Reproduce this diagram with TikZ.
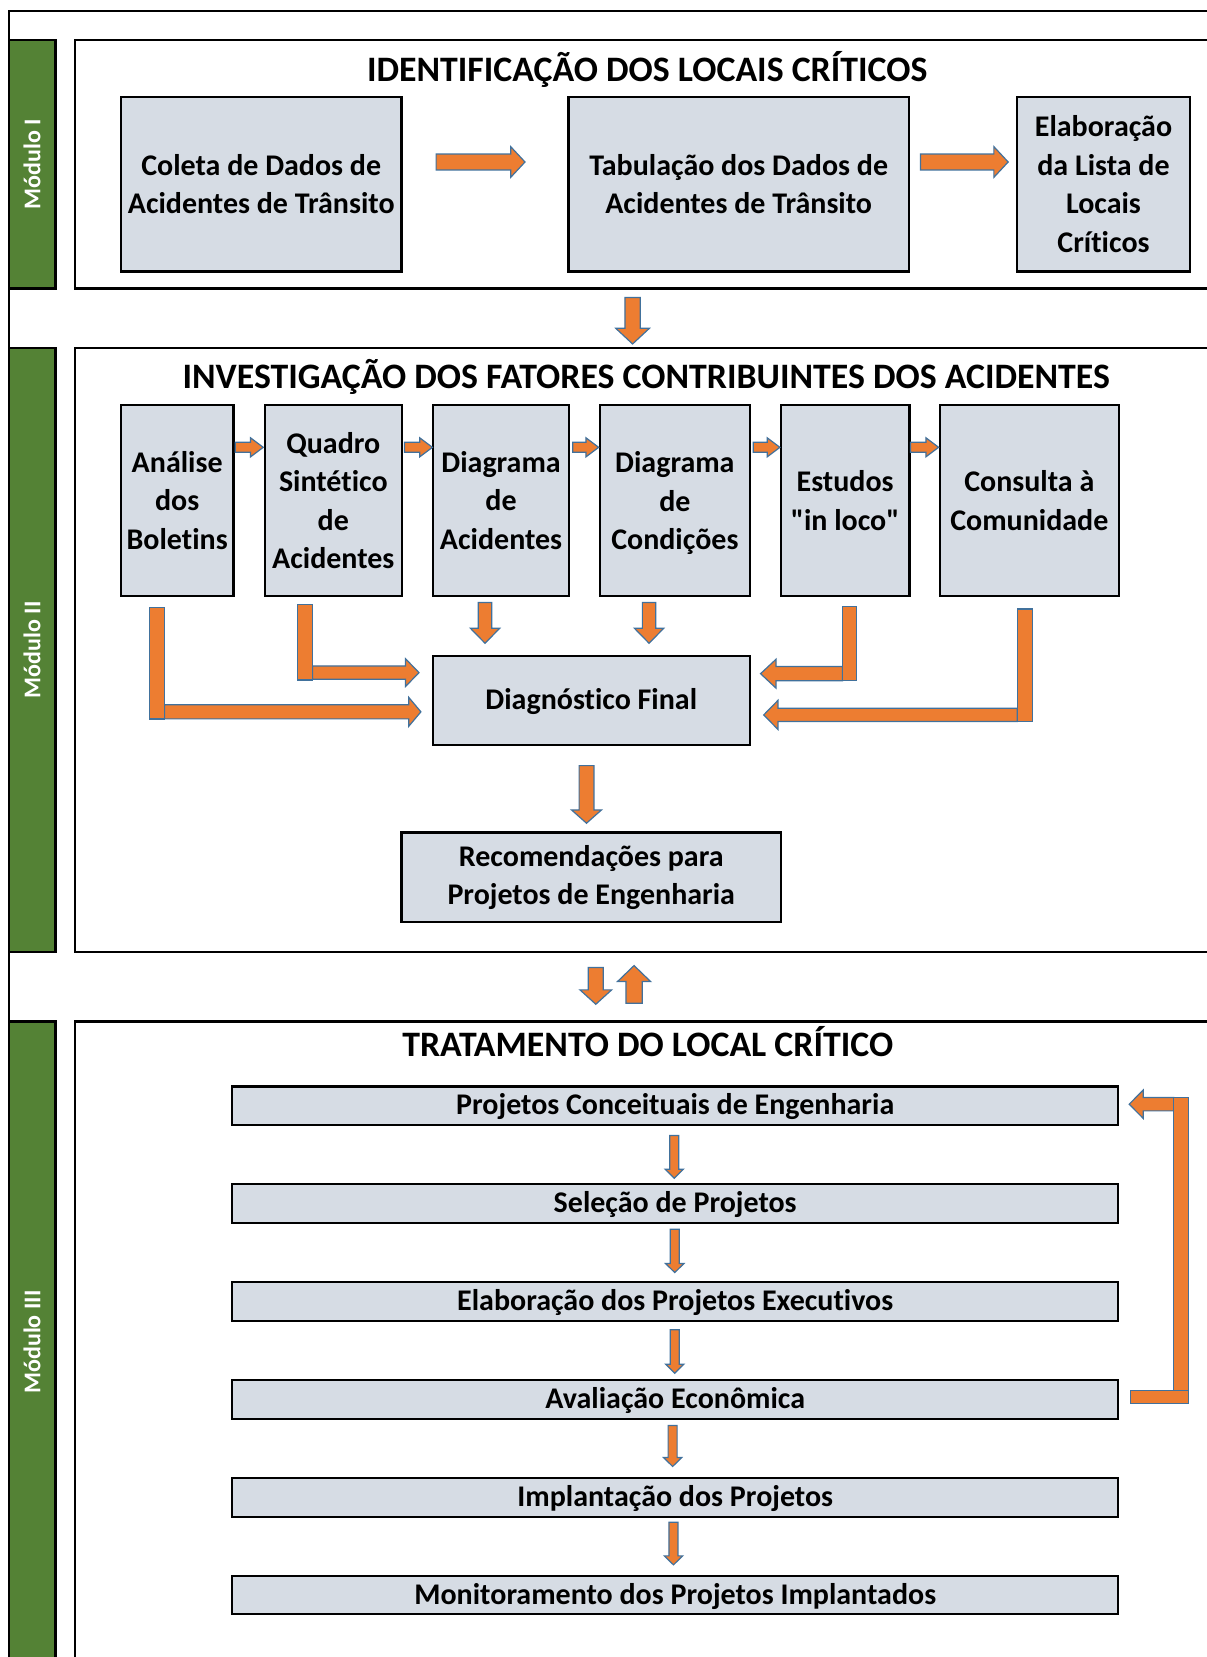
\documentclass[tikz,border=0pt]{standalone}
\usepackage{fontspec}
\setmainfont{Carlito}[Ligatures={TeXOff,NoCommon}]
\definecolor{modgreen}{HTML}{548235}
\definecolor{boxgray}{HTML}{D6DCE4}
\definecolor{arrorange}{HTML}{ED7D31}
\definecolor{arrline}{HTML}{41719C}
% block arrows: from, to, fixed axis, shaft half width, head half width, head length
\newcommand\hblock[6]{%
  \filldraw[blockarr] ({#1},{#3-#4}) -- ({#2-#6*sign(#2-#1)},{#3-#4}) -- ({#2-#6*sign(#2-#1)},{#3-#5})
    -- ({#2},{#3}) -- ({#2-#6*sign(#2-#1)},{#3+#5}) -- ({#2-#6*sign(#2-#1)},{#3+#4}) -- ({#1},{#3+#4}) -- cycle;}
\newcommand\vblock[6]{%
  \filldraw[blockarr] ({#1-#4},{#2}) -- ({#1-#4},{#3-#6*sign(#3-#2)}) -- ({#1-#5},{#3-#6*sign(#3-#2)})
    -- ({#1},{#3}) -- ({#1+#5},{#3-#6*sign(#3-#2)}) -- ({#1+#4},{#3-#6*sign(#3-#2)}) -- ({#1+#4},{#2}) -- cycle;}

\begin{document}
\begin{tikzpicture}
      [x=0.52845pt,y=-0.52845pt
      ,frame/.style={draw=black,line width=1.1pt}
      ,modbar/.style={fill=modgreen,draw=black,line width=1.1pt}
      ,modlabel/.style={rotate=90,text=white,font=\fontsize{12}{14}\selectfont\bfseries}
      ,title/.style={font=\fontsize{17.9}{21}\selectfont\bfseries,inner sep=0pt}
      ,box/.style={draw=black,line width=1.1pt,fill=boxgray,align=center,inner sep=0pt
                  ,font=\fontsize{15}{19.2}\selectfont\bfseries}
      ,oneline/.style={text height=11.5pt,text depth=2.5pt}
      ,wh/.style 2 args={minimum width=#1*0.52845pt,minimum height=#2*0.52845pt}
      ,blockarr/.style={fill=arrorange,draw=arrline,line width=0.6pt}
      ]
        \clip (0,0) rectangle (1142,1568);
        \fill[white] (0,0) rectangle (1142,1568);
        \draw[frame] (1150,10.4) -- (8.2,10.4) -- (8.2,1580);
        \draw[frame] (1150,37.8) -- (70.6,37.8) -- (70.6,273) -- (1150,273);
        \draw[frame] (1150,329.6) -- (70.6,329.6) -- (70.6,900.5) -- (1150,900.5);
        \draw[frame] (1150,966.7) -- (70.6,966.7) -- (70.6,1580);
        \filldraw[modbar] (8.2,37.8) rectangle (52.5,273);
        \filldraw[modbar] (8.2,329.6) rectangle (52.5,900.5);
        \filldraw[modbar] (8.2,966.7) rectangle (52.5,1580);
        \node[modlabel] (mod1) at (30.3,155.4) {Módulo I};
        \node[modlabel] (mod2) at (30.3,615) {Módulo II};
        \node[modlabel] (mod3) at (30.3,1270) {Módulo III};

        \node[title,anchor=base] (tit1) at (612.5,77.3) {IDENTIFICAÇÃO DOS LOCAIS CRÍTICOS};
        \node[box,wh={265.6}{165.5}] (coleta) at (247.2,174.25) {Coleta de Dados de\\Acidentes de Trânsito};
        \node[box,wh={322}{165.5}] (tabulacao) at (699,174.25) {Tabulação dos Dados de\\Acidentes de Trânsito};
        \node[box,wh={164.3}{165.5}] (listacrit) at (1044.2,174.25) {Elaboração\\da Lista de\\Locais\\Críticos};
        \hblock{412.7}{496.8}{153.3}{7.5}{14.5}{13.5}
        \hblock{871}{954}{153.3}{7.5}{14.5}{13.5}
        \vblock{598.6}{281.6}{325.5}{7.25}{15.9}{14.8}

        \node[title,anchor=base] (tit2) at (611.5,368) {INVESTIGAÇÃO DOS FATORES CONTRIBUINTES DOS ACIDENTES};
        \node[box,wh={106.5}{180.8}] (analise) at (167.65,473.6) {Análise\\dos\\Boletins};
        \node[box,wh={129.6}{180.8}] (quadro) at (315.4,473.6) {Quadro\\Sintético\\de\\Acidentes};
        \node[box,wh={129.3}{180.8}] (diagacid) at (474.15,473.6) {Diagrama\\de\\Acidentes};
        \node[box,text depth=0pt,wh={142.3}{180.8}] (diagcond) at (638.6,473.6) {Diagrama\\de\\Condições};
        \node[box,wh={121.9}{180.8}] (estudos) at (799.75,473.6) {Estudos\\"in loco"};
        \node[box,wh={169.2}{180.8}] (consulta) at (974,473.6) {Consulta à\\Comunidade};
        \node[box,oneline,wh={300.2}{84.5}] (diagfinal) at (559.5,662.65) {Diagnóstico Final};
        \node[box,wh={359}{84.9}] (recomend) at (559.5,830.25) {Recomendações para\\Projetos de Engenharia};
        \hblock{222.7}{249.1}{423.3}{4.75}{9}{12}
        \hblock{382.7}{409.2}{423.3}{4.75}{9}{12}
        \hblock{542}{566.5}{423.3}{4.75}{9}{12}
        \hblock{712.8}{738}{423.3}{4.75}{9}{12}
        \hblock{861.5}{888.2}{423.3}{4.75}{9}{12}
        \vblock{459}{570.2}{608.7}{6.35}{13.9}{14.2}
        \vblock{614.2}{570.2}{608.7}{6.35}{13.9}{14.2}
        \hblock{155.7}{398.3}{673.6}{6.65}{13.8}{11.6}
        \filldraw[blockarr] (141.2,575) rectangle (155.7,680.3);
        \hblock{295.8}{396.5}{636.5}{6.3}{13.1}{12.7}
        \filldraw[blockarr] (281.4,571.8) rectangle (295.8,643.4);
        \hblock{797.3}{719.7}{637.5}{6.75}{13.75}{14.7}
        \filldraw[blockarr] (797.3,574) rectangle (810.6,644.3);
        \hblock{962.6}{722.7}{676.5}{6.3}{13.8}{13.5}
        \filldraw[blockarr] (962.6,576.2) rectangle (977.2,682.8);
        \vblock{555}{724.5}{779}{7}{14.2}{12.6}

        \vblock{563.8}{915.6}{950.3}{7.1}{15}{13.6}
        \vblock{600}{949.3}{913.7}{7.7}{15.65}{15.1}

        \node[title,anchor=base] (tit3) at (613,999.8) {TRATAMENTO DO LOCAL CRÍTICO};
        \node[box,oneline,wh={838.3}{36.5}] (projconc) at (638.95,1046.4) {Projetos Conceituais de Engenharia};
        \node[box,oneline,wh={838.3}{36.5}] (selecao) at (638.95,1139) {Seleção de Projetos};
        \node[box,oneline,wh={838.3}{36.5}] (projexec) at (638.95,1231.6) {Elaboração dos Projetos Executivos};
        \node[box,oneline,wh={838.3}{36.5}] (avaleco) at (638.95,1324.4) {Avaliação Econômica};
        \node[box,oneline,wh={838.3}{36.5}] (implant) at (638.95,1416.9) {Implantação dos Projetos};
        \node[box,oneline,wh={838.3}{36.5}] (monitor) at (638.95,1509.4) {Monitoramento dos Projetos Implantados};
        \vblock{638}{1074.5}{1114.9}{4.25}{8.65}{8.5}
        \vblock{638.5}{1163.2}{1204.2}{4.25}{8.65}{8.5}
        \vblock{638.5}{1258.4}{1299.4}{4.25}{8.65}{8.5}
        \vblock{636.5}{1349}{1387.7}{4.25}{8.65}{8.5}
        \vblock{637.3}{1440.4}{1480.8}{4.25}{8.65}{8.5}
        \hblock{1110.8}{1068.5}{1044.9}{6.3}{13.4}{13.3}
        \filldraw[blockarr] (1110.8,1038.6) rectangle (1124.3,1328.4);
        \filldraw[blockarr] (1070.1,1315.8) rectangle (1124.3,1328.4);
      \end{tikzpicture}
\end{document}
